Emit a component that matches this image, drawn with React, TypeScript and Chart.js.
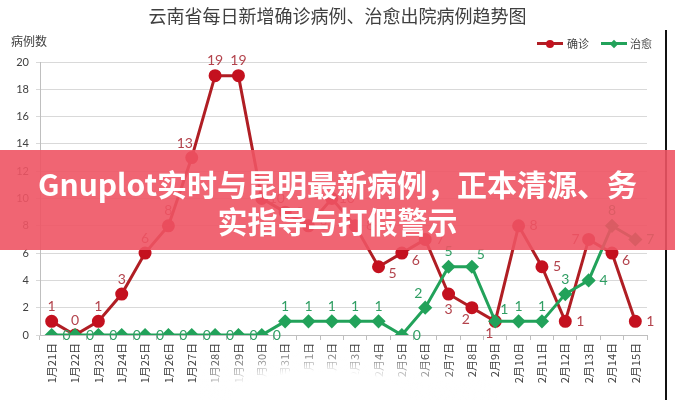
import React, { useEffect, useRef } from "react";
import { Chart, registerables } from "chart.js";

Chart.register(...registerables);

const categories = [
  "1月21日", "1月22日", "1月23日", "1月24日", "1月25日", "1月26日", "1月27日", "1月28日", "1月29日",
  "1月30日", "1月31日", "2月1日", "2月2日", "2月3日", "2月4日", "2月5日", "2月6日", "2月7日",
  "2月8日", "2月9日", "2月10日", "2月11日", "2月12日", "2月13日", "2月14日", "2月15日",
];
const confirmed = [1, 0, 1, 3, 6, 8, 13, 19, 19, 10, 9, 8, 10, 8, 5, 6, 7, 3, 2, 1, 8, 5, 1, 7, 6, 1];
const cured = [0, 0, 0, 0, 0, 0, 0, 0, 0, 0, 1, 1, 1, 1, 1, 0, 2, 5, 5, 1, 1, 1, 3, 4, 8, 7];
const yTicks = [0, 2, 4, 6, 8, 10, 12, 14, 16, 18, 20];

// label placement codes (style only)
const confirmedPlace = ["a","a","a","a","a","a","al","a","a","r","r","r","r","r","br","br","r","b","bl","bl","r","r","r","l","br","r"];
const curedPlace = ["r","r","r","r","r","r","r","r","r","r","a","a","a","a","a","r","al","a","ar","ar","a","a","a","r","a","r"];

const RED = "#B01E24";
const RED_PT = "#C4111F";
const GREEN = "#22A25A";

const labelPlugin = {
  id: "pointLabels",
  afterDatasetsDraw(chart: any) {
    const ctx = chart.ctx;
    ctx.save();
    ctx.font = "14px Lato, 'Noto Sans', sans-serif";
    ctx.textBaseline = "middle";
    ctx.textAlign = "center";
    chart.data.datasets.forEach((ds: any, di: number) => {
      const meta = chart.getDatasetMeta(di);
      const place = ds._place as string[];
      ctx.fillStyle = ds._labelColor;
      meta.data.forEach((pt: any, i: number) => {
        const p = place[i];
        let dx = 0, dy = 0;
        if (p === "a") dy = -15;
        if (p === "b") dy = 15;
        if (p === "r") dx = 15;
        if (p === "l") dx = -13;
        if (p === "al") { dx = -7; dy = -14; }
        if (p === "ar") { dx = 9; dy = -12; }
        if (p === "br") { dx = 14; dy = 7; }
        if (p === "bl") { dx = -6; dy = 12; }
        ctx.fillText(String(ds.data[i]), pt.x + dx, pt.y + dy);
      });
    });
    ctx.restore();
  },
};

export default function App() {
  const ref = useRef<HTMLCanvasElement | null>(null);
  useEffect(() => {
    if (!ref.current) return;
    const chart = new Chart(ref.current, {
      type: "line",
      data: {
        labels: categories,
        datasets: [
          {
            label: "确诊",
            data: confirmed,
            borderColor: RED,
            backgroundColor: RED_PT,
            pointBackgroundColor: RED_PT,
            pointBorderColor: RED_PT,
            borderWidth: 3,
            pointRadius: 5,
            pointStyle: "circle",
            order: 2,
            _place: confirmedPlace,
            _labelColor: "#B3434C",
          } as any,
          {
            label: "治愈",
            data: cured,
            borderColor: GREEN,
            backgroundColor: GREEN,
            pointBackgroundColor: GREEN,
            pointBorderColor: GREEN,
            borderWidth: 3,
            pointRadius: 5,
            pointStyle: "rectRot",
            order: 1,
            _place: curedPlace,
            _labelColor: "#2F9E63",
          } as any,
        ],
      },
      options: {
        responsive: false,
        animation: false,
        layout: { padding: { top: 62, right: 28, left: 0, bottom: 0 } },
        plugins: { legend: { display: false }, title: { display: false }, tooltip: { enabled: false } },
        scales: {
          x: {
            offset: true,
            afterFit: (s: any) => { s.height = 65; },
            grid: { offset: true, drawOnChartArea: false, drawTicks: true, tickLength: 5, color: "#BFBFBF" },
            border: { color: "#BFBFBF" },
            ticks: {
              autoSkip: false,
              minRotation: 90,
              maxRotation: 90,
              padding: 3,
              color: "#404040",
              font: { size: 11, family: "'Noto Sans CJK SC', sans-serif" },
            },
          },
          y: {
            min: 0,
            max: 20,
            afterFit: (s: any) => { s.width = 40; },
            afterBuildTicks: (s: any) => { s.ticks = yTicks.map((v) => ({ value: v })); },
            grid: { color: "#D9D9D9", tickLength: 4 },
            border: { color: "#BFBFBF" },
            ticks: { padding: 7, color: "#404040", font: { size: 11, family: "Lato, 'Noto Sans', sans-serif" } },
          },
        },
      },
      plugins: [labelPlugin],
    });
    return () => chart.destroy();
  }, []);

  const font = "'Noto Sans CJK SC', sans-serif";
  return (
    <div style={{ position: "fixed", left: 0, top: 0, width: 675, height: 400, background: "#fff", overflow: "hidden", fontFamily: font }}>
      <canvas ref={ref} width={675} height={400} style={{ position: "absolute", left: 0, top: 0, width: 675, height: 400 }} />
      <div style={{ position: "absolute", left: 0, width: 675, top: 3, textAlign: "center", fontSize: 18, color: "#404040", lineHeight: "24px" }}>
        云南省每日新增确诊病例、治愈出院病例趋势图
      </div>
      <div style={{ position: "absolute", left: 11, top: 32, fontSize: 12, color: "#404040", lineHeight: "18px" }}>病例数</div>
      {/* legend */}
      <div style={{ position: "absolute", left: 537, top: 42, width: 26, height: 3, background: RED }} />
      <div style={{ position: "absolute", left: 546, top: 39.5, width: 8, height: 8, borderRadius: 4, background: RED_PT }} />
      <div style={{ position: "absolute", left: 567, top: 35, fontSize: 11, color: "#404040", lineHeight: "16px" }}>确诊</div>
      <div style={{ position: "absolute", left: 601, top: 42, width: 26, height: 3, background: GREEN }} />
      <div style={{ position: "absolute", left: 611, top: 40.5, width: 6, height: 6, transform: "rotate(45deg)", background: GREEN }} />
      <div style={{ position: "absolute", left: 630, top: 35, fontSize: 11, color: "#404040", lineHeight: "16px" }}>治愈</div>
      {/* right frame line */}
      <div style={{ position: "absolute", left: 665, top: 30, width: 2, height: 370, background: "#111" }} />
      {/* blurred patch */}
      <div style={{ position: "absolute", left: 200, top: 345, width: 300, height: 90, background: "radial-gradient(ellipse at 40% 60%, rgba(255,255,255,1) 35%, rgba(255,255,255,0) 70%)" }} />
      {/* banner */}
      <div style={{ position: "absolute", left: 0, top: 150, width: 675, height: 100, background: "rgba(238, 84, 100, 0.9)", color: "#fff", fontWeight: 700, fontSize: 30, textAlign: "center", lineHeight: "37px", paddingTop: 15, boxSizing: "border-box", fontFamily: font }}>
        <div>Gnuplot实时与昆明最新病例，正本清源、务</div>
        <div>实指导与打假警示</div>
      </div>
    </div>
  );
}
